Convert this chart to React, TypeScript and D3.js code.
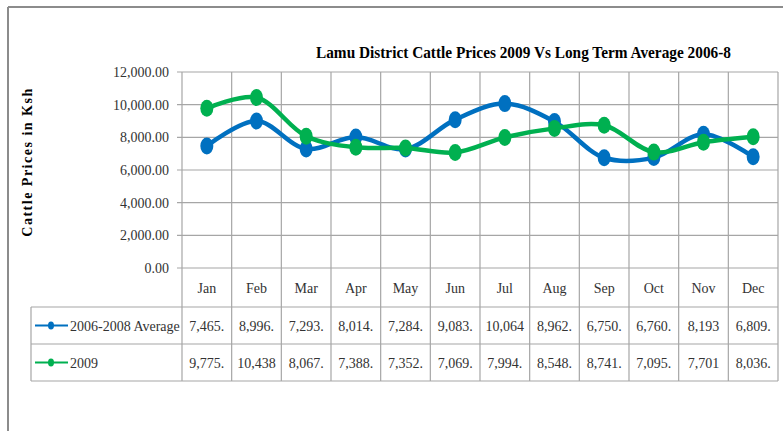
import * as d3 from "d3";
import { useEffect, useRef } from "react";

const months = ["Jan", "Feb", "Mar", "Apr", "May", "Jun", "Jul", "Aug", "Sep", "Oct", "Nov", "Dec"];
const average = [7465, 8996, 7293, 8014, 7284, 9083, 10064, 8962, 6750, 6760, 8193, 6809];
const y2009 = [9775, 10438, 8067, 7388, 7352, 7069, 7994, 8548, 8741, 7095, 7701, 8036];
// the table cells are clipped in the original, keep them as shown
const averageLabels = ["7,465.", "8,996.", "7,293.", "8,014.", "7,284.", "9,083.", "10,064", "8,962.", "6,750.", "6,760.", "8,193", "6,809."];
const labels2009 = ["9,775.", "10,438", "8,067.", "7,388.", "7,352.", "7,069.", "7,994.", "8,548.", "8,741.", "7,095.", "7,701", "8,036."];
const yTicks = [0, 2000, 4000, 6000, 8000, 10000, 12000];

const series = [
    { name: "2006-2008 Average", values: average, labels: averageLabels, color: "#0070C0" },
    { name: "2009", values: y2009, labels: labels2009, color: "#00B050" },
];

export default function App() {
    const svgRef = useRef(null);
    const width = 783;
    const height = 431;

    useEffect(() => {
        const svg = d3.select(svgRef.current);
        svg.selectAll("*").remove();
        svg.style("font-family", "Liberation Serif, Times New Roman, serif");

        const left = 182, right = 778, top = 72, bottom = 268;
        const headerBottom = 307, rowH = 37, legendLeft = 31;
        const grid = "#a6a6a6";
        const ink = "#333";

        const x = d3.scaleBand().domain(months).range([left, right]);
        const y = d3.scaleLinear().domain([0, 12000]).range([bottom, top]);

        // outer frame
        svg.append("line").attr("x1", 8).attr("x2", width).attr("y1", 7).attr("y2", 7)
            .attr("stroke", "#8c8c8c").attr("stroke-width", 2);
        svg.append("line").attr("x1", 8).attr("x2", 8).attr("y1", 7).attr("y2", height)
            .attr("stroke", "#8c8c8c").attr("stroke-width", 2);

        // title
        svg.append("text")
            .attr("x", 316).attr("y", 58)
            .attr("font-weight", "bold").attr("font-size", 17)
            .attr("textLength", 415).attr("lengthAdjust", "spacingAndGlyphs")
            .text("Lamu District Cattle Prices 2009 Vs Long Term Average 2006-8");

        // y axis title
        svg.append("text")
            .attr("transform", "translate(32, 162) rotate(-90)")
            .attr("text-anchor", "middle")
            .attr("font-weight", "bold").attr("font-size", 14)
            .attr("letter-spacing", 1.5)
            .text("Cattle Prices in Ksh");

        // horizontal gridlines + ticks
        const yAxis = svg.append("g");
        yAxis.selectAll("line").data(yTicks).join("line")
            .attr("x1", left - 5).attr("x2", right)
            .attr("y1", d => y(d)).attr("y2", d => y(d))
            .attr("stroke", grid).attr("stroke-width", 1.2);
        yAxis.selectAll("text").data(yTicks).join("text")
            .attr("x", left - 13).attr("y", d => y(d) + 5)
            .attr("text-anchor", "end")
            .attr("font-size", 14).attr("fill", ink)
            .text(d => d3.format(",.2f")(d));

        // vertical gridlines through plot and table
        const tableBottom = headerBottom + rowH * 2;
        svg.append("g").selectAll("line").data(d3.range(months.length + 1)).join("line")
            .attr("x1", i => left + i * x.bandwidth()).attr("x2", i => left + i * x.bandwidth())
            .attr("y1", top).attr("y2", tableBottom)
            .attr("stroke", grid).attr("stroke-width", 1.2);

        // table horizontal lines
        [headerBottom, headerBottom + rowH, tableBottom].forEach(yy => {
            svg.append("line").attr("x1", legendLeft).attr("x2", right).attr("y1", yy).attr("y2", yy)
                .attr("stroke", grid).attr("stroke-width", 1.2);
        });
        svg.append("line").attr("x1", legendLeft).attr("x2", legendLeft)
            .attr("y1", headerBottom).attr("y2", tableBottom)
            .attr("stroke", grid).attr("stroke-width", 1.2);

        // month headers
        svg.append("g").selectAll("text").data(months).join("text")
            .attr("x", d => x(d) + x.bandwidth() / 2).attr("y", 293)
            .attr("text-anchor", "middle")
            .attr("font-size", 14).attr("fill", ink)
            .text(d => d);

        // rows
        series.forEach((s, si) => {
            const rowY = headerBottom + rowH * si + rowH / 2;
            const g = svg.append("g");
            g.append("line").attr("x1", 35).attr("x2", 68).attr("y1", rowY).attr("y2", rowY)
                .attr("stroke", s.color).attr("stroke-width", 2);
            g.append("ellipse").attr("cx", 51).attr("cy", rowY).attr("rx", 3).attr("ry", 4)
                .attr("fill", s.color);
            g.append("text").attr("x", 70).attr("y", rowY + 5)
                .attr("font-size", 14).attr("fill", ink)
                .text(s.name);
            g.selectAll(".v").data(s.labels).join("text")
                .attr("x", (d, i) => x(months[i]) + x.bandwidth() / 2).attr("y", rowY + 5)
                .attr("text-anchor", "middle")
                .attr("font-size", 14).attr("fill", ink)
                .text(d => d);
        });

        // lines
        const line = d3.line()
            .x((d, i) => x(months[i]) + x.bandwidth() / 2)
            .y(d => y(d))
            .curve(d3.curveCatmullRom.alpha(0.5));

        series.forEach(s => {
            const g = svg.append("g");
            g.append("path").attr("d", line(s.values))
                .attr("fill", "none").attr("stroke", s.color).attr("stroke-width", 4.5);
            g.selectAll("ellipse").data(s.values).join("ellipse")
                .attr("cx", (d, i) => x(months[i]) + x.bandwidth() / 2)
                .attr("cy", d => y(d))
                .attr("rx", 6.5).attr("ry", 8.5)
                .attr("fill", s.color);
        });
    }, []);

    return (
        <svg ref={svgRef} width={width} height={height}
            style={{ position: "absolute", left: 0, top: 0, background: "#fff" }} />
    );
}
